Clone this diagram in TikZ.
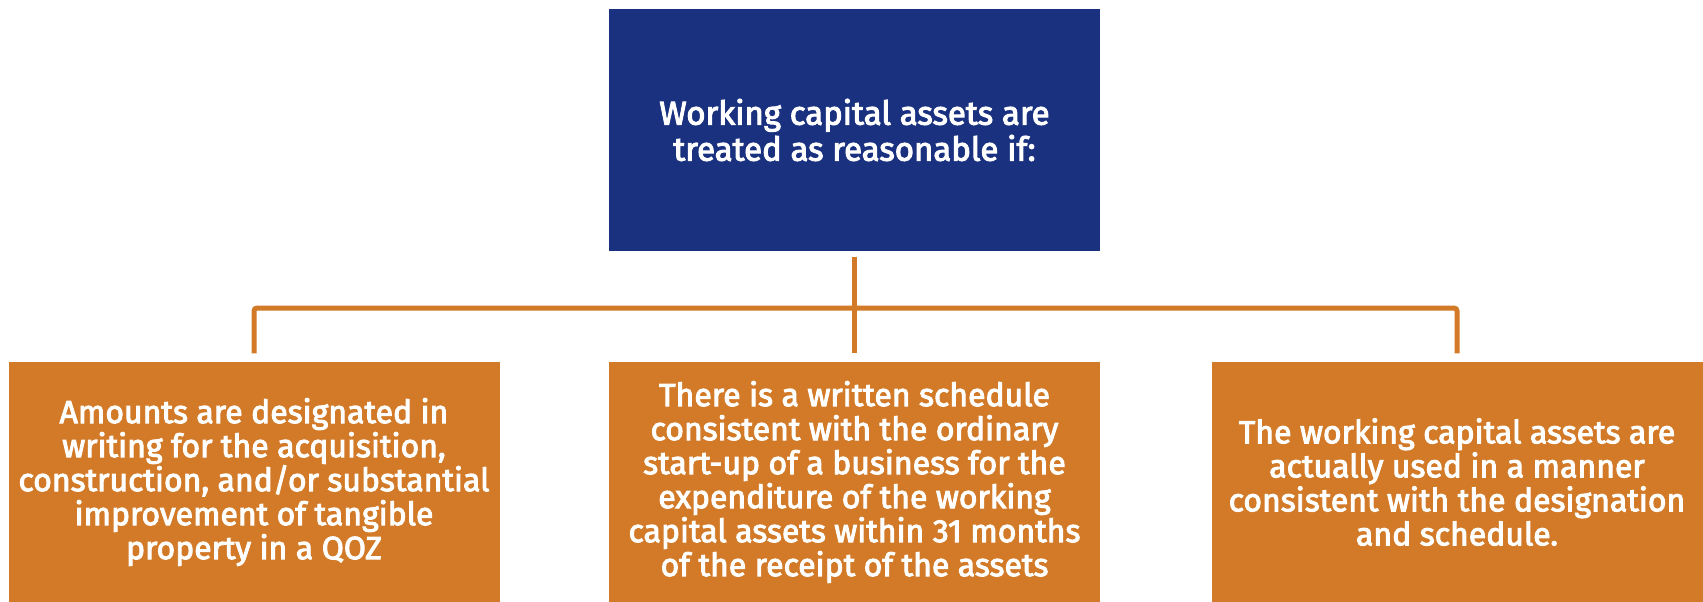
\documentclass[tikz,border=0pt]{standalone}
\usepackage{fontspec}
\setmainfont{Fira Sans}[FakeBold=3]
\definecolor{navy}{HTML}{1A3180}
\definecolor{rust}{HTML}{D27A27}
\begin{document}
\begin{tikzpicture}[x=1pt,y=-1pt,
  box/.style={rectangle, inner sep=0pt, minimum width=491pt, minimum height=241pt,
    text=white, align=center, font=\fontsize{32}{34}\selectfont},
  topbox/.style={box, fill=navy},
  subbox/.style={box, fill=rust},
  conn/.style={draw=rust, line width=5pt, rounded corners=3pt}]
\useasboundingbox (0,0) rectangle (1703,602);
\node[topbox, font=\fontsize{33}{36}\selectfont] (top) at (854.5,130) {Working capital assets are\\treated as reasonable if:};
\node[subbox] (left) at (254,482) {Amounts are designated in\\writing for the acquisition,\\construction, and/or substantial\\improvement of tangible\\property in a QOZ};
\node[subbox] (mid) at (854.5,482) {There is a written schedule\\consistent with the ordinary\\start-up of a business for the\\expenditure of the working\\capital assets within 31 months\\of the receipt of the assets};
\node[subbox] (right) at (1457,482) {The working capital assets are\\actually used in a manner\\consistent with the designation\\and schedule.};
\coordinate (bus) at (854.5,308);
\draw[conn, shorten <=6pt, shorten >=8pt] (top.south) -- (mid.north);
\draw[conn, shorten <=8pt, shorten >=8pt] (left.north) -- (left.north |- bus) -- (right.north |- bus) -- (right.north);
\end{tikzpicture}
\end{document}
